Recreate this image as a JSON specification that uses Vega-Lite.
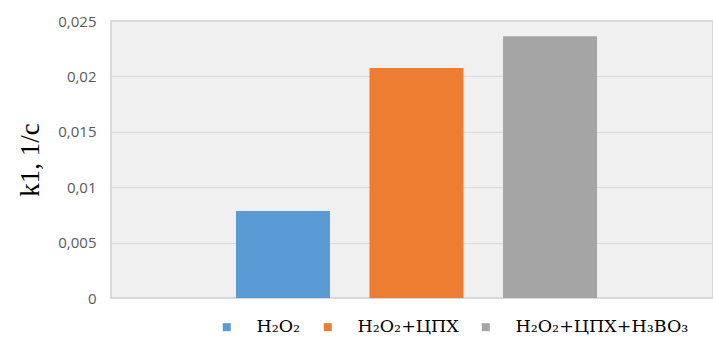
{
  "$schema": "https://vega.github.io/schema/vega-lite/v6.json",
  "width": 602,
  "height": 277,
  "autosize": "none",
  "padding": {"left": 111, "top": 21, "right": 0, "bottom": 40},
  "background": "white",
  "data": {"values": [
    {"series": "H₂O₂", "k1": 0.00785},
    {"series": "H₂O₂+ЦПХ", "k1": 0.02075},
    {"series": "H₂O₂+ЦПХ+H₃BO₃", "k1": 0.02362}
  ]},
  "mark": {"type": "bar"},
  "encoding": {
    "x": {
      "field": "series", "type": "nominal", "sort": null,
      "scale": {"paddingInner": 0.296, "paddingOuter": 0.936, "range": [0, 611]},
      "axis": null
    },
    "y": {
      "field": "k1", "type": "quantitative",
      "scale": {"domain": [0, 0.025], "nice": false},
      "axis": {
        "values": [0, 0.005, 0.01, 0.015, 0.02, 0.025],
        "labelExpr": "replace(format(datum.value, '~g'), '.', ',')",
        "title": "k1, 1/с",
        "titleFont": "Liberation Serif",
        "titleFontSize": 27,
        "titleFontWeight": "normal",
        "titleColor": "black",
        "titlePadding": 13,
        "labelFont": "Open Sans",
        "labelFontSize": 15,
        "labelColor": "#595959",
        "labelPadding": 15,
        "ticks": false,
        "domain": false,
        "grid": true,
        "gridColor": "#d9d9d9",
        "gridWidth": 1.2
      }
    },
    "color": {
      "field": "series", "type": "nominal", "sort": null,
      "scale": {"range": ["#5B9BD5", "#ED7D31", "#A5A5A5"]},
      "legend": {
        "title": null,
        "orient": "none",
        "direction": "horizontal",
        "legendX": 107,
        "legendY": 297,
        "symbolType": "square",
        "symbolSize": 64,
        "symbolStrokeWidth": 0,
        "labelFont": "DejaVu Serif",
        "labelFontSize": 17.5,
        "labelColor": "black",
        "labelOffset": 21,
        "columnPadding": 18,
        "labelLimit": 400,
        "padding": 0
      }
    }
  },
  "config": {
    "view": {"fill": "#f0f0f0", "stroke": "#d0d0d0", "strokeWidth": 1.5}
  }
}
